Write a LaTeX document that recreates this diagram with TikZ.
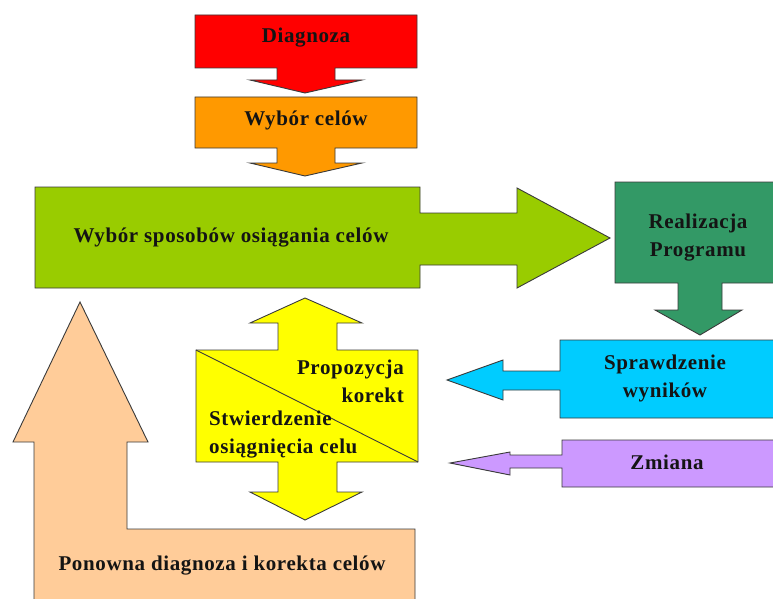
\documentclass[tikz,border=0pt]{standalone}
\usepackage{fontspec}
\setmainfont{Liberation Serif}[LetterSpace=3]
\definecolor{cRed}{HTML}{FF0000}
\definecolor{cOrange}{HTML}{FF9900}
\definecolor{cGreen}{HTML}{99CC00}
\definecolor{cDark}{HTML}{339966}
\definecolor{cCyan}{HTML}{00CCFF}
\definecolor{cPurple}{HTML}{CC99FF}
\definecolor{cYellow}{HTML}{FFFF00}
\definecolor{cPeach}{HTML}{FFCC99}
\definecolor{cLine}{HTML}{3A3A3A}
\definecolor{cText}{HTML}{141414}
\begin{document}
\begin{tikzpicture}[x=1pt,y=-1pt,
  blockshape/.style={draw=cLine,line width=0.9pt,line join=miter},
  lbl/.style={text=cText,inner sep=0pt,align=center,font=\fontsize{21}{28}\selectfont\bfseries},
  lblr/.style={lbl,align=right},
  lbll/.style={lbl,align=left}]
\useasboundingbox (0,0) rectangle (773,599);
% Diagnoza
\draw[blockshape,fill=cRed] (195,15)--(417,15)--(417,68)--(335,68)--(335,80)--(362,80)--(305,93)--(250,80)--(277,80)--(277,68)--(195,68)--cycle;
\node[lbl] (diag) at (306,38) {Diagnoza};
% Wybor celow
\draw[blockshape,fill=cOrange] (195,97)--(417,97)--(417,148)--(335,148)--(335,163)--(362,163)--(305,176)--(250,163)--(277,163)--(277,148)--(195,148)--cycle;
\node[lbl] (cele) at (306,120) {Wybór celów};
% Wybor sposobow
\draw[blockshape,fill=cGreen] (35,187)--(420,187)--(420,213)--(517,213)--(517,188)--(610,238)--(517,288)--(517,265)--(420,265)--(420,288)--(35,288)--cycle;
\node[lbl] (spos) at (231,238) {Wybór sposobów osiągania celów};
% Realizacja
\draw[blockshape,fill=cDark] (615,182)--(775,182)--(775,283)--(722,283)--(722,310)--(742,310)--(700,335)--(655,310)--(678,310)--(678,283)--(615,283)--cycle;
\node[lbl] (real) at (698,238) {Realizacja\\Programu};
% Sprawdzenie
\draw[blockshape,fill=cCyan] (560,340)--(775,340)--(775,418)--(560,418)--(560,390)--(503,390)--(503,400)--(447,380)--(503,360)--(503,371)--(560,371)--cycle;
\node[lbl] (spr) at (665,378) {Sprawdzenie\\wyników};
% Zmiana
\draw[blockshape,fill=cPurple] (562,440)--(775,440)--(775,487)--(562,487)--(562,468)--(510,468)--(510,475)--(450,463)--(510,452)--(510,455)--(562,455)--cycle;
\node[lbl] (zm) at (667,462) {Zmiana};
% Yellow double arrow
\draw[blockshape,fill=cYellow] (305,298)--(362,323)--(337,323)--(337,350)--(418,350)--(418,462)--(337,462)--(337,492)--(362,492)--(305,520)--(250,492)--(278,492)--(278,462)--(196,462)--(196,350)--(278,350)--(278,323)--(250,323)--cycle;
\draw[cLine,line width=0.9pt] (196,350)--(418,462);
\node[lblr,anchor=east] (prop) at (404,381) {Propozycja\\korekt};
\node[lbll,anchor=west] (stw) at (209,435) {Stwierdzenie\\osiągnięcia celu};
% Peach
\draw[blockshape,fill=cPeach] (80,302)--(148,442)--(127,442)--(127,529)--(415,529)--(415,605)--(34,605)--(34,442)--(13,442)--cycle;
\node[lbl] (pon) at (222,566) {Ponowna diagnoza i korekta celów};
\end{tikzpicture}
\end{document}
